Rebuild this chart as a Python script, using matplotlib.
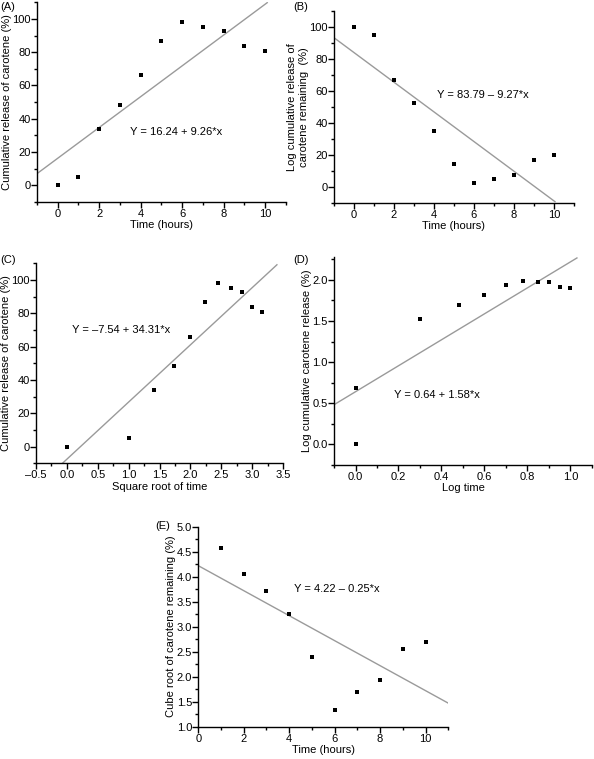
import matplotlib
matplotlib.use('Agg')
import matplotlib.pyplot as plt
from matplotlib.ticker import MultipleLocator

plt.rcParams['font.family'] = ['Liberation Sans', 'DejaVu Sans']
plt.rcParams['font.size'] = 8

# data
hours = [0, 1, 2, 3, 4, 5, 6, 7, 8, 9, 10]
release = [0, 5, 34, 48.5, 66, 86.5, 98, 95.3, 93, 83.5, 80.5]
remaining = [100, 95, 66.5, 52, 34.5, 14, 2.5, 5, 7.5, 16.5, 19.5]
sqrt_time = [0, 1.0, 1.41, 1.73, 2.0, 2.24, 2.45, 2.65, 2.83, 3.0, 3.16]
log_time = [0, 0, 0.30, 0.48, 0.60, 0.70, 0.78, 0.85, 0.90, 0.95, 1.0]
log_release = [0, 0.68, 1.53, 1.69, 1.82, 1.94, 1.99, 1.98, 1.97, 1.92, 1.905]
hours_e = [1, 2, 3, 4, 5, 6, 7, 8, 9, 10]
cube_root = [4.58, 4.06, 3.72, 3.25, 2.39, 1.34, 1.70, 1.93, 2.56, 2.70]

# fitted lines: (intercept, slope, x start, x end)
fit_a = (16.24, 9.26, -1, 10.1)
fit_b = (83.79, -9.27, -1, 10.05)
fit_c = (-7.54, 34.31, -0.07, 3.40)
fit_d = (0.64, 1.58, -0.1, 1.03)
fit_e = (4.22, -0.25, 0, 11)

fig = plt.figure(figsize=(5.94, 7.59), dpi=100)


def panel(rect, x, y, fit, xlim, ylim, xmaj, xmin, ymaj, ymin, xlabel, ylabel,
          eq, eqpos, tag, tagpos):
    ax = fig.add_axes(rect)
    b, m, x0, x1 = fit
    ax.plot([x0, x1], [b + m * x0, b + m * x1], color='#9a9a9a', lw=1.0)
    ax.plot(x, y, 's', color='black', ms=3.2, mew=0)
    ax.set_xlim(*xlim)
    ax.set_ylim(*ylim)
    ax.xaxis.set_major_locator(MultipleLocator(xmaj))
    ax.xaxis.set_minor_locator(MultipleLocator(xmin))
    ax.yaxis.set_major_locator(MultipleLocator(ymaj))
    ax.yaxis.set_minor_locator(MultipleLocator(ymin))
    for s in ['top', 'right']:
        ax.spines[s].set_visible(False)
    for s in ['left', 'bottom']:
        ax.spines[s].set_linewidth(1.0)
    ax.tick_params(which='major', direction='out', length=4, width=1, pad=1)
    ax.tick_params(which='minor', direction='out', length=2, width=1)
    ax.tick_params(axis='y', which='major', pad=0.5)
    ax.set_xlabel(xlabel, labelpad=1)
    ax.set_ylabel(ylabel, labelpad=0.5)
    ax.text(eqpos[0], eqpos[1], eq, va='center', ha='left')
    fig.text(tagpos[0], tagpos[1], tag, va='top', ha='left')
    return ax


# (A)
axa = panel([0.0623, 0.734, 0.419, 0.263], hours, release, fit_a, (-1, 11), (-10, 110),
            2, 1, 20, 10, 'Time (hours)', 'Cumulative release of carotene (%)',
            'Y = 16.24 + 9.26*x', (3.48, 32), '(A)', (0.0, 0.997))
axa.set_xticks([0, 2, 4, 6, 8, 10])
axa.set_yticks([0, 20, 40, 60, 80, 100])

# (B)
axb = panel([0.5623, 0.733, 0.404, 0.253], hours, remaining, fit_b, (-1, 11), (-10, 110),
            2, 1, 20, 10, 'Time (hours)', 'Log cumulative release of\ncarotene remaining  (%)',
            'Y = 83.79 \u2013 9.27*x', (4.17, 57), '(B)', (0.493, 0.997))
axb.set_xticks([0, 2, 4, 6, 8, 10])
axb.set_yticks([0, 20, 40, 60, 80, 100])

# (C)
axc = panel([0.0606, 0.3896, 0.4160, 0.2635], sqrt_time, release, fit_c, (-0.5, 3.5), (-10, 110),
            0.5, 0.25, 20, 10, 'Square root of time', 'Cumulative release of carotene (%)',
            'Y = \u20137.54 + 34.31*x', (0.08, 70), '(C)', (0.0, 0.664))
axc.set_yticks([0, 20, 40, 60, 80, 100])
axc.set_xticks([-0.5, 0, 0.5, 1, 1.5, 2, 2.5, 3, 3.5])
axc.set_xticklabels(['\u20130.5', '0.0', '0.5', '1.0', '1.5', '2.0', '2.5', '3.0', '3.5'])

# (D)
axd = panel([0.5623, 0.3875, 0.4343, 0.274], log_time, log_release, fit_d, (-0.1, 1.1), (-0.25, 2.28),
            0.2, 0.1, 0.5, 0.25, 'Log time', 'Log cumulative carotene release (%)',
            'Y = 0.64 + 1.58*x', (0.178, 0.60), '(D)', (0.493, 0.664))
axd.set_xticks([0, 0.2, 0.4, 0.6, 0.8, 1.0])
axd.set_yticks([0, 0.5, 1.0, 1.5, 2.0])

# (E)
axe = panel([0.3338, 0.0426, 0.4209, 0.2635], hours_e, cube_root, fit_e, (0, 11), (1.0, 5.0),
            2, 1, 0.5, 0.25, 'Time (hours)', 'Cube root of carotene remaining (%)',
            'Y = 4.22 \u2013 0.25*x', (4.19, 3.75), '(E)', (0.262, 0.314))
axe.set_xticks([0, 2, 4, 6, 8, 10])

fig.savefig('out.png', dpi=100)
